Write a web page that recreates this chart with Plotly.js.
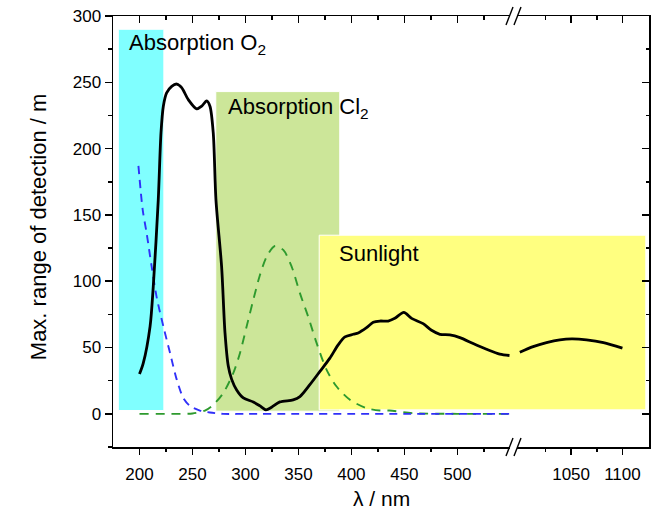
<!DOCTYPE html>
<html><head><meta charset="utf-8">
<script src="https://cdn.plot.ly/plotly-3.0.1.min.js"></script>
<style>html,body{margin:0;padding:0;background:#fff}#chart{width:661px;height:514px}</style>
</head><body><div id="chart"></div><script>
// ---- data ----
const rangeLeftX = [200, 203.5, 210, 213, 217.7, 220.3, 222.5, 225.6, 230.4, 235.1, 239.8, 246, 254, 258.7, 263.4, 266.5, 269.6, 272.2, 277.5, 280.7, 283.8, 287, 291.7, 298, 307.4, 313.7, 319.3, 324.7, 332.5, 345, 351.4, 360.8, 370.3, 379.7, 387.5, 393.9, 401.7, 406.4, 414.3, 420.6, 426.9, 434.7, 441, 449.5, 456.8, 467.7, 475.6, 483.5, 492.9, 502.4, 514.9, 527.5, 540, 549.2];
const rangeLeftY = [30, 38, 66, 96, 161, 212, 232, 242, 247, 248.7, 246, 237, 230, 232, 236, 232, 212, 161, 111, 61, 36, 26, 18, 12, 9, 6, 3, 5, 9, 10.5, 13, 22, 32, 42, 52, 58, 60, 61, 65, 69, 70, 70, 72, 76.5, 72, 68, 63, 60, 59.5, 57.5, 53, 48.7, 45, 44];
const rangeRightX = [1000, 1013, 1026, 1039, 1050.7, 1065, 1081.5, 1100];
const rangeRightY = [46.5, 50.7, 53.7, 55.8, 56.5, 55.8, 53.7, 49.5];
const o2X = [199, 203, 206.8, 211.5, 216.2, 222.5, 228.8, 235.1, 241.3, 247.6, 257, 266.5, 279, 300, 350, 400, 450, 500, 550];
const o2Y = [187, 154, 136, 111, 88, 66, 46, 26, 12, 6, 2.5, 1, 0, 0, 0, 0, 0, 0, 0];
const cl2X = [200, 230, 250, 261.8, 269.6, 279, 288.5, 294.8, 301.1, 307.4, 313.7, 320, 327.8, 335.7, 343.6, 351.4, 359.2, 367.2, 376.6, 386, 398.6, 414.3, 426.9, 436, 458, 500, 550];
const cl2Y = [0, 0, 0.3, 2.5, 6.8, 15.6, 30.7, 45.7, 65.8, 85.9, 104.7, 118.5, 126.6, 123.6, 111, 91, 73.3, 53.3, 33.2, 20.6, 10.6, 4.3, 2.5, 2.5, 0.5, 0, 0];
// shaded bands: [x0, x1, y0, y1]
const bandO2 = [180, 223, 2.5, 290];
const bandCl2 = [272, 389, 2, 243];
const bandSun = [369.6, 1122.8, 3, 134.7];
// tick labels
const leftTicks = [200, 250, 300, 350, 400, 450, 500];
const leftMinor = [225, 275, 325, 375, 425, 475, 525];
const rightTicks = [1050, 1100];
const rightMinor = [1025, 1075];
const yTicks = [0, 50, 100, 150, 200, 250, 300];
const yMinor = [-25, 25, 75, 125, 175, 225, 275];
const labels = ['Absorption O<sub>2</sub>', 'Absorption Cl<sub>2</sub>', 'Sunlight'];
const xTitle = 'λ / nm';
const yTitle = 'Max. range of detection / m';

const FONT = 'Liberation Sans, Arial, sans-serif';
const leftRange = [175, 554.4];
const rightRange = [995.3, 1125.9];
const yRange = [-25, 300];

const traces = [
  {x: cl2X, y: cl2Y, xaxis: 'x', yaxis: 'y', mode: 'lines', line: {color: '#2E9A2E', width: 1.9, dash: '9px,7px', shape: 'spline', smoothing: 0.8}, hoverinfo: 'skip'},
  {x: o2X, y: o2Y, xaxis: 'x', yaxis: 'y', mode: 'lines', line: {color: '#3030F8', width: 1.9, dash: '8px,6px', shape: 'spline', smoothing: 0.8}, hoverinfo: 'skip'},
  {x: rangeLeftX, y: rangeLeftY, xaxis: 'x', yaxis: 'y', mode: 'lines', line: {color: '#000', width: 2.8, shape: 'spline', smoothing: 0.8}, hoverinfo: 'skip'},
  {x: rangeRightX, y: rangeRightY, xaxis: 'x2', yaxis: 'y', mode: 'lines', line: {color: '#000', width: 2.8, shape: 'spline', smoothing: 0.8}, hoverinfo: 'skip'},
  // placeholders so the mirror axes exist
  {x: [null], y: [null], xaxis: 'x3', yaxis: 'y', mode: 'lines', hoverinfo: 'skip'},
  {x: [null], y: [null], xaxis: 'x4', yaxis: 'y', mode: 'lines', hoverinfo: 'skip'},
  {x: [null], y: [null], xaxis: 'x2', yaxis: 'y2', mode: 'lines', hoverinfo: 'skip'}
];

const base = {showline: true, linecolor: '#000', linewidth: 1.5, showgrid: false, zeroline: false,
  tickcolor: '#000', tickwidth: 1.5, ticklen: 6, tickfont: {family: FONT, size: 17, color: '#000'}, fixedrange: true};
function minor(vals, dir) { return {tickvals: vals, ticks: dir, ticklen: 3.5, tickwidth: 1.5, tickcolor: '#000', showgrid: false}; }

function band(b, xref, color, x0, x1) {
  return {type: 'rect', xref: xref, yref: 'y', x0: x0, x1: x1, y0: b[2], y1: b[3], fillcolor: color, line: {color: '#fff', width: 1}, layer: 'below'};
}
const shapes = [
  band(bandO2, 'x', '#80FFFF', bandO2[0], bandO2[1]),
  band(bandCl2, 'x', '#CCE699', bandCl2[0], bandCl2[1]),
  band(bandSun, 'x', '#FFFF80', bandSun[0], 700),
  band(bandSun, 'x2', '#FFFF80', 800, bandSun[1])
];
// axis break marks
[0, 1].forEach(function (py) {
  shapes.push({type: 'line', xref: 'paper', yref: 'paper', xsizemode: 'pixel', ysizemode: 'pixel', xanchor: 0.75, yanchor: py, x0: -5, x1: 2, y0: 0, y1: 0, line: {color: '#fff', width: 4}, layer: 'above'});
  shapes.push({type: 'line', xref: 'paper', yref: 'paper', xsizemode: 'pixel', ysizemode: 'pixel', xanchor: 0.75, yanchor: py, x0: -9, x1: -2, y0: -9, y1: 9, line: {color: '#000', width: 1.4}, layer: 'above'});
  shapes.push({type: 'line', xref: 'paper', yref: 'paper', xsizemode: 'pixel', ysizemode: 'pixel', xanchor: 0.75, yanchor: py, x0: -1, x1: 6, y0: -9, y1: 9, line: {color: '#000', width: 1.4}, layer: 'above'});
});

const layout = {
  width: 661, height: 514, margin: {l: 113, r: 12, t: 16, b: 67, pad: 0},
  paper_bgcolor: '#fff', plot_bgcolor: 'rgba(0,0,0,0)', showlegend: false,
  font: {family: FONT, color: '#000'},
  xaxis: Object.assign({}, base, {domain: [0, 0.75], range: leftRange, anchor: 'y', ticks: 'outside', ticklabelstandoff: 5, tickmode: 'array', tickvals: leftTicks, minor: minor(leftMinor, 'outside')}),
  xaxis2: Object.assign({}, base, {domain: [0.75, 1], range: rightRange, anchor: 'y', ticks: 'outside', ticklabelstandoff: 5, tickmode: 'array', tickvals: rightTicks, minor: minor(rightMinor, 'outside')}),
  xaxis3: Object.assign({}, base, {overlaying: 'x', side: 'top', range: leftRange, anchor: 'y', ticks: 'inside', ticklen: 7, showticklabels: false, tickmode: 'array', tickvals: leftTicks, minor: minor(leftMinor, 'inside')}),
  xaxis4: Object.assign({}, base, {overlaying: 'x2', side: 'top', range: rightRange, anchor: 'y', ticks: 'inside', ticklen: 7, showticklabels: false, tickmode: 'array', tickvals: rightTicks, minor: minor(rightMinor, 'inside')}),
  yaxis: Object.assign({}, base, {domain: [0, 1], range: yRange, anchor: 'x', ticks: 'outside', ticklen: 7, tickmode: 'array', tickvals: yTicks, minor: minor(yMinor, 'outside')}),
  yaxis2: Object.assign({}, base, {overlaying: 'y', side: 'right', range: yRange, anchor: 'x2', ticks: 'inside', ticklen: 7, showticklabels: false, tickmode: 'array', tickvals: yTicks, minor: minor(yMinor, 'inside')}),
  shapes: shapes,
  annotations: [
    {text: labels[0], xref: 'x', yref: 'y', x: 188, y: 279, xanchor: 'left', yanchor: 'middle', showarrow: false, font: {family: FONT, size: 22, color: '#000'}},
    {text: labels[1], xref: 'x', yref: 'y', x: 281.5, y: 231, xanchor: 'left', yanchor: 'middle', showarrow: false, font: {family: FONT, size: 22, color: '#000'}},
    {text: labels[2], xref: 'x', yref: 'y', x: 386.5, y: 120.6, xanchor: 'left', yanchor: 'middle', showarrow: false, font: {family: FONT, size: 22, color: '#000'}},
    {text: xTitle, xref: 'paper', yref: 'paper', x: 0.5, y: 0, yanchor: 'top', yshift: -38, showarrow: false, font: {family: FONT, size: 21, color: '#000'}},
    {text: yTitle, xref: 'paper', yref: 'paper', x: 0, y: 0.51, xanchor: 'center', yanchor: 'middle', xshift: -75, textangle: -90, showarrow: false, font: {family: FONT, size: 22, color: '#000'}}
  ]
};

Plotly.newPlot('chart', traces, layout, {displayModeBar: false, staticPlot: true});
</script></body></html>
